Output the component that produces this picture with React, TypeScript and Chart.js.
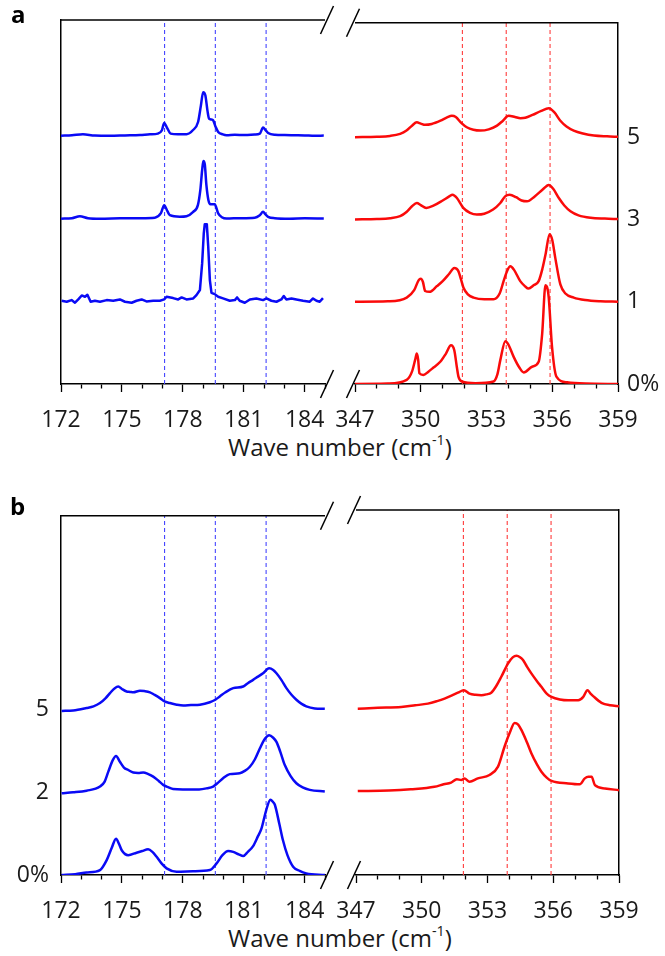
import React, { useEffect, useRef } from 'react';
import { Chart, registerables } from 'chart.js';

Chart.register(...registerables);

const FONT = "'Open Sans', 'Noto Sans', sans-serif";
const TEXT = '#1a1a1a';
const BLUE = 'rgb(10,10,245)';
const RED = 'rgb(250,10,10)';
const BLUE_DASH = 'rgb(70,70,255)';
const RED_DASH = 'rgb(255,60,60)';

// ---- axis ticks ----
const leftTicks = [172, 173, 174, 175, 176, 177, 178, 179, 180, 181, 182, 183, 184, 185];
const leftTickLabels = [172, 175, 178, 181, 184];
const rightTicks = [347, 348, 349, 350, 351, 352, 353, 354, 355, 356, 357, 358, 359];
const rightTickLabels = [347, 350, 353, 356, 359];

// ---- reference (dashed) lines ----
const blueDashes = [177.1, 179.6, 182.1];
const redDashes = [351.9, 353.9, 355.9];

// ---- offset levels ----
const aLevels = [0, 1, 2, 3];
const aLevelLabels = ['0%', '1', '3', '5'];
const bLevels = [0, 1, 2];
const bLevelLabels = ['0%', '2', '5'];
const aYMax = 4.39;
const bYMax = 4.345;

// ---- panel a, blue (172-185) ----
const aBlue5X = [172.0, 172.54, 173.08, 173.67, 174.41, 175.15, 175.89, 176.38, 176.77, 176.97, 177.08, 177.21, 177.4, 177.76, 178.18, 178.49, 178.75, 178.89, 179.0, 179.11, 179.21, 179.29, 179.4, 179.49, 179.6, 179.74, 179.97, 180.15, 180.56, 181.05, 181.54, 181.79, 181.95, 182.08, 182.2, 182.53, 183.02, 183.51, 184.0, 184.49, 184.94];
const aBlue5Y = [2.994, 3.0, 3.012, 2.996, 2.994, 2.998, 3.002, 3.012, 3.02, 3.06, 3.148, 3.096, 3.02, 3.012, 3.012, 3.06, 3.16, 3.36, 3.52, 3.48, 3.3, 3.2, 3.19, 3.18, 3.11, 3.04, 3.01, 3.0, 3.006, 3.002, 3.01, 3.02, 3.093, 3.06, 3.028, 3.006, 3.002, 3.0, 2.998, 2.994, 2.996];

const aBlue3X = [172.0, 172.54, 172.93, 173.33, 173.92, 174.9, 175.89, 176.62, 176.92, 177.08, 177.24, 177.36, 177.85, 178.18, 178.51, 178.74, 178.86, 178.95, 179.01, 179.08, 179.16, 179.26, 179.36, 179.57, 179.74, 179.92, 180.15, 180.8, 181.54, 181.79, 181.95, 182.08, 182.2, 182.53, 183.26, 184.0, 184.94];
const aBlue3Y = [1.994, 2.0, 2.024, 2.0, 1.994, 1.998, 2.0, 2.006, 2.06, 2.157, 2.084, 2.036, 2.018, 2.024, 2.076, 2.157, 2.337, 2.578, 2.69, 2.65, 2.398, 2.217, 2.169, 2.169, 2.057, 2.012, 1.996, 2.0, 2.006, 2.036, 2.076, 2.042, 2.016, 2.0, 1.994, 1.998, 1.996];

const aBlue1X = [172.03, 172.28, 172.52, 172.69, 172.85, 173.02, 173.18, 173.3, 173.46, 173.67, 173.92, 174.25, 174.57, 174.9, 175.15, 175.48, 175.72, 175.97, 176.21, 176.54, 176.87, 177.08, 177.2, 177.52, 177.77, 177.94, 178.18, 178.51, 178.67, 178.84, 178.95, 179.03, 179.08, 179.18, 179.25, 179.33, 179.41, 179.57, 179.74, 179.98, 180.31, 180.56, 180.67, 180.8, 181.05, 181.3, 181.62, 181.95, 182.12, 182.36, 182.61, 182.85, 182.97, 183.1, 183.35, 183.59, 183.92, 184.25, 184.41, 184.58, 184.74, 184.9];
const aBlue1Y = [1.004, 0.992, 1.012, 0.98, 1.02, 1.068, 1.052, 1.076, 0.992, 1.004, 0.992, 1.012, 1.004, 1.02, 0.992, 0.98, 1.004, 1.02, 0.996, 1.004, 1.004, 1.02, 1.052, 1.036, 1.02, 1.044, 1.02, 1.032, 1.072, 1.133, 1.454, 1.815, 1.928, 1.928, 1.655, 1.253, 1.1, 1.084, 1.052, 1.032, 1.004, 1.012, 1.044, 1.004, 0.98, 1.02, 1.032, 1.012, 1.032, 1.004, 0.992, 1.02, 1.06, 1.02, 1.032, 1.02, 1.004, 0.992, 1.032, 1.004, 0.992, 1.036];

// ---- panel a, red (347-359) ----
const aRed5X = [347.0, 348.0, 348.6, 349.06, 349.35, 349.6, 349.82, 350.0, 350.2, 350.5, 350.9, 351.2, 351.42, 351.6, 351.86, 352.1, 352.4, 352.72, 353.1, 353.48, 353.75, 354.01, 354.3, 354.55, 354.77, 355.1, 355.5, 355.84, 356.1, 356.37, 356.65, 356.98, 357.4, 357.9, 358.5, 359.0];
const aRed5Y = [3.0, 3.005, 3.015, 3.04, 3.08, 3.14, 3.18, 3.165, 3.15, 3.16, 3.2, 3.24, 3.26, 3.245, 3.17, 3.12, 3.09, 3.08, 3.095, 3.14, 3.2, 3.26, 3.245, 3.23, 3.235, 3.27, 3.32, 3.35, 3.3, 3.2, 3.13, 3.08, 3.045, 3.02, 3.01, 3.005];

const aRed3X = [347.0, 348.0, 348.6, 349.06, 349.35, 349.6, 349.82, 350.0, 350.25, 350.6, 351.0, 351.3, 351.45, 351.65, 351.94, 352.25, 352.56, 352.9, 353.3, 353.63, 353.85, 354.06, 354.35, 354.6, 354.85, 355.2, 355.55, 355.84, 356.05, 356.3, 356.55, 356.83, 357.2, 357.75, 358.4, 359.0];
const aRed3Y = [2.0, 2.005, 2.015, 2.04, 2.09, 2.16, 2.2, 2.175, 2.14, 2.17, 2.23, 2.28, 2.3, 2.26, 2.14, 2.08, 2.06, 2.07, 2.12, 2.2, 2.28, 2.3, 2.27, 2.23, 2.22, 2.28, 2.36, 2.42, 2.37, 2.26, 2.17, 2.1, 2.05, 2.02, 2.01, 2.005];

const aRed1X = [347.0, 348.5, 349.36, 349.7, 349.9, 350.0, 350.1, 350.2, 350.4, 350.74, 351.0, 351.3, 351.53, 351.7, 351.85, 351.95, 352.15, 352.41, 352.9, 353.32, 353.6, 353.78, 353.95, 354.09, 354.25, 354.54, 354.75, 354.92, 355.15, 355.38, 355.55, 355.69, 355.88, 356.0, 356.14, 356.37, 356.6, 356.98, 357.5, 358.2, 359.0];
const aRed1Y = [1.0, 1.005, 1.05, 1.14, 1.26, 1.28, 1.24, 1.13, 1.12, 1.19, 1.25, 1.34, 1.41, 1.38, 1.26, 1.17, 1.09, 1.05, 1.03, 1.03, 1.1, 1.25, 1.38, 1.43, 1.39, 1.25, 1.19, 1.16, 1.2, 1.25, 1.4, 1.57, 1.82, 1.75, 1.53, 1.21, 1.1, 1.05, 1.02, 1.005, 1.0];

const aRed0X = [347.0, 348.5, 349.36, 349.6, 349.75, 349.82, 349.88, 349.94, 350.12, 350.35, 350.58, 350.89, 351.15, 351.38, 351.53, 351.65, 351.72, 351.88, 352.5, 353.32, 353.5, 353.63, 353.86, 354.0, 354.24, 354.5, 354.7, 355.08, 355.38, 355.54, 355.69, 355.76, 355.84, 355.99, 356.19, 356.68, 357.5, 359.0];
const aRed0Y = [0.0, 0.005, 0.05, 0.15, 0.3, 0.37, 0.3, 0.13, 0.11, 0.15, 0.2, 0.27, 0.37, 0.47, 0.41, 0.2, 0.09, 0.03, 0.01, 0.03, 0.12, 0.29, 0.52, 0.48, 0.33, 0.2, 0.14, 0.21, 0.27, 0.61, 1.2, 1.18, 1.05, 0.45, 0.09, 0.02, 0.005, 0.0];

// ---- panel b, blue ----
const bBlue5X = [172.03, 172.6, 173.26, 173.6, 173.92, 174.2, 174.41, 174.65, 174.82, 175.0, 175.23, 175.4, 175.56, 175.89, 176.1, 176.38, 176.6, 176.87, 177.1, 177.36, 177.7, 178.02, 178.4, 178.84, 179.33, 179.6, 179.82, 180.1, 180.48, 180.97, 181.2, 181.46, 181.7, 181.95, 182.25, 182.45, 182.61, 182.85, 183.1, 183.35, 183.59, 183.85, 184.08, 184.5, 184.99];
const bBlue5Y = [1.985, 1.99, 2.02, 2.04, 2.08, 2.14, 2.2, 2.26, 2.28, 2.25, 2.22, 2.215, 2.21, 2.23, 2.225, 2.21, 2.18, 2.14, 2.1, 2.08, 2.06, 2.05, 2.055, 2.06, 2.09, 2.12, 2.16, 2.21, 2.26, 2.28, 2.32, 2.36, 2.4, 2.44, 2.5, 2.48, 2.44, 2.36, 2.26, 2.18, 2.12, 2.07, 2.04, 2.015, 2.01];

const bBlue2X = [172.03, 172.6, 173.26, 173.92, 174.15, 174.33, 174.55, 174.71, 174.9, 175.1, 175.31, 175.56, 175.8, 176.05, 176.3, 176.54, 176.8, 177.03, 177.3, 177.52, 178.0, 178.8, 179.2, 179.49, 179.75, 179.98, 180.31, 180.8, 181.05, 181.3, 181.55, 181.79, 182.05, 182.25, 182.45, 182.61, 182.8, 183.02, 183.3, 183.59, 183.9, 184.25, 184.99];
const bBlue2Y = [0.99, 1.0, 1.02, 1.07, 1.13, 1.25, 1.39, 1.44, 1.37, 1.3, 1.27, 1.24, 1.235, 1.24, 1.22, 1.19, 1.14, 1.09, 1.06, 1.04, 1.035, 1.035, 1.05, 1.07, 1.12, 1.17, 1.22, 1.23, 1.26, 1.31, 1.4, 1.53, 1.65, 1.69, 1.66, 1.61, 1.49, 1.33, 1.2, 1.11, 1.06, 1.03, 1.01];

const bBlue0X = [172.03, 172.7, 173.26, 173.92, 174.25, 174.5, 174.71, 174.85, 174.99, 175.31, 175.72, 176.0, 176.29, 176.5, 176.71, 176.95, 177.2, 177.69, 178.5, 179.33, 179.66, 179.95, 180.23, 180.48, 180.75, 180.97, 181.2, 181.46, 181.7, 181.87, 182.1, 182.31, 182.45, 182.53, 182.75, 182.93, 183.15, 183.43, 183.75, 184.08, 184.99];
const bBlue0Y = [0.0, 0.01, 0.03, 0.06, 0.18, 0.33, 0.44, 0.38, 0.3, 0.24, 0.27, 0.29, 0.31, 0.28, 0.22, 0.14, 0.08, 0.04, 0.045, 0.06, 0.14, 0.24, 0.29, 0.28, 0.25, 0.23, 0.28, 0.35, 0.47, 0.56, 0.78, 0.91, 0.88, 0.85, 0.62, 0.42, 0.24, 0.1, 0.05, 0.02, 0.0];

// ---- panel b, red ----
const bRed5X = [347.08, 348.0, 349.06, 349.7, 350.28, 350.7, 351.04, 351.4, 351.65, 351.92, 352.18, 352.45, 352.72, 352.95, 353.17, 353.4, 353.63, 353.94, 354.15, 354.32, 354.5, 354.62, 354.8, 355.0, 355.25, 355.46, 355.7, 355.92, 356.3, 356.68, 357.14, 357.37, 357.56, 357.7, 357.82, 358.2, 358.6, 359.0];
const bRed5Y = [1.98, 1.99, 2.0, 2.02, 2.04, 2.07, 2.1, 2.14, 2.17, 2.2, 2.16, 2.145, 2.14, 2.15, 2.17, 2.25, 2.36, 2.52, 2.59, 2.61, 2.59, 2.56, 2.48, 2.4, 2.31, 2.24, 2.16, 2.12, 2.09, 2.08, 2.08, 2.12, 2.2, 2.16, 2.13, 2.05, 2.02, 2.01];

const bRed2X = [347.08, 348.5, 349.5, 350.58, 351.0, 351.34, 351.6, 351.8, 351.95, 352.18, 352.56, 353.09, 353.48, 353.78, 354.01, 354.24, 354.4, 354.54, 354.8, 355.0, 355.25, 355.46, 355.7, 355.92, 356.68, 357.21, 357.44, 357.6, 357.75, 357.9, 358.36, 359.0];
const bRed2Y = [1.0, 1.005, 1.02, 1.05, 1.08, 1.1, 1.14, 1.13, 1.15, 1.11, 1.15, 1.19, 1.29, 1.53, 1.69, 1.81, 1.79, 1.73, 1.58, 1.45, 1.32, 1.23, 1.16, 1.12, 1.09, 1.08, 1.15, 1.17, 1.17, 1.07, 1.03, 1.01];

type Spectrum = { xs: number[]; ys: number[]; color: string; smooth: boolean };

type SubProps = {
  left: number;
  top: number;
  width: number;
  height: number;
  padding: { left: number; right: number; top: number; bottom: number };
  xMin: number;
  xMax: number;
  ticks: number[];
  tickLabels: number[];
  yMax: number;
  levels: number[];
  levelLabels: string[];
  yPos: 'left' | 'right';
  showY: boolean;
  yWidth: number;
  xHeight: number;
  spectra: Spectrum[];
  dashes: number[];
  dashColor: string;
  breakSide: 'left' | 'right';
};

const breakPlugin = {
  id: 'axisBreak',
  afterDraw(chart: any, _args: any, opts: any) {
    const { ctx, chartArea } = chart;
    const { left, right, top, bottom } = chartArea;
    ctx.save();
    ctx.strokeStyle = '#000';
    ctx.lineWidth = 1.5;
    ctx.beginPath();
    ctx.moveTo(left, top);
    ctx.lineTo(right, top);
    ctx.stroke();
    const cx = opts.side === 'right' ? right + 2 : left - 2;
    for (const cy of [top, bottom]) {
      ctx.beginPath();
      ctx.moveTo(cx + 6.5, cy - 14);
      ctx.lineTo(cx - 6.5, cy + 14);
      ctx.stroke();
    }
    ctx.restore();
  },
};

function zip(xs: number[], ys: number[]) {
  const n = Math.min(xs.length, ys.length);
  const out: { x: number; y: number }[] = [];
  for (let i = 0; i < n; i++) out.push({ x: xs[i], y: ys[i] });
  return out;
}

function buildConfig(p: SubProps): any {
  const datasets: any[] = [];
  p.spectra.forEach((s) => {
    datasets.push({
      data: zip(s.xs, s.ys),
      borderColor: s.color,
      borderWidth: 2.5,
      pointRadius: 0,
      showLine: true,
      fill: false,
      tension: 0,
      cubicInterpolationMode: s.smooth ? 'monotone' : 'default',
      borderJoinStyle: 'round',
    });
  });
  p.dashes.forEach((d) => {
    datasets.push({
      data: [
        { x: d, y: 0 },
        { x: d, y: p.yMax },
      ],
      borderColor: p.dashColor,
      borderWidth: 1.1,
      borderDash: [4, 3],
      pointRadius: 0,
      showLine: true,
      fill: false,
    });
  });

  return {
    type: 'scatter',
    data: { datasets },
    plugins: [breakPlugin],
    options: {
      responsive: false,
      animation: false,
      events: [],
      layout: { padding: p.padding },
      plugins: {
        legend: { display: false },
        tooltip: { enabled: false },
        axisBreak: { side: p.breakSide },
      },
      scales: {
        x: {
          type: 'linear',
          position: 'bottom',
          min: p.xMin,
          max: p.xMax,
          afterBuildTicks: (s: any) => {
            s.ticks = p.ticks.map((v) => ({ value: v }));
          },
          afterFit: (s: any) => {
            s.height = p.xHeight;
          },
          ticks: {
            autoSkip: false,
            maxRotation: 0,
            minRotation: 0,
            padding: 15,
            color: TEXT,
            font: { family: FONT, size: 23 },
            callback: (v: number) => (p.tickLabels.includes(v) ? String(v) : ''),
          },
          grid: {
            display: true,
            drawOnChartArea: false,
            drawTicks: true,
            tickLength: 8,
            tickColor: '#000',
            tickWidth: 1.3,
            tickBorderDash: (ctx: any) =>
              ctx.tick && p.tickLabels.includes(ctx.tick.value) ? [] : [4, 30],
          },
          border: { display: true, color: '#000', width: 1.5 },
        },
        y: {
          type: 'linear',
          position: p.yPos,
          min: 0,
          max: p.yMax,
          afterBuildTicks: (s: any) => {
            s.ticks = p.levels.map((v) => ({ value: v }));
          },
          afterFit: (s: any) => {
            s.width = p.yWidth;
          },
          ticks: {
            display: p.showY,
            padding: p.yPos === 'left' ? 12 : 9,
            color: TEXT,
            font: { family: FONT, size: 23 },
            callback: (_v: number, i: number) => p.levelLabels[i] ?? '',
          },
          grid: { display: false, drawTicks: false },
          border: { display: true, color: '#000', width: 1.5 },
        },
      },
    },
  };
}

function SubChart(p: SubProps) {
  const ref = useRef<HTMLCanvasElement>(null);
  useEffect(() => {
    if (!ref.current) return;
    const chart = new Chart(ref.current, buildConfig(p));
    return () => chart.destroy();
  }, []);
  return (
    <canvas
      ref={ref}
      width={p.width}
      height={p.height}
      style={{ position: 'absolute', left: p.left, top: p.top, width: p.width, height: p.height }}
    />
  );
}

const titleStyle: React.CSSProperties = {
  position: 'absolute',
  left: 140,
  width: 400,
  textAlign: 'center',
  fontFamily: FONT,
  fontSize: 24,
  lineHeight: '24px',
  color: TEXT,
  whiteSpace: 'nowrap',
};

const panelLabelStyle: React.CSSProperties = {
  position: 'absolute',
  fontFamily: FONT,
  fontWeight: 700,
  fontSize: 24,
  lineHeight: '24px',
  color: '#000',
};

function Title({ top }: { top: number }) {
  return (
    <div style={{ ...titleStyle, top }}>
      Wave number (cm<sup style={{ fontSize: '0.6em', lineHeight: 0, verticalAlign: '0.75em' }}>-1</sup>)
    </div>
  );
}

export default function App() {
  const bTop = 490;
  return (
    <div style={{ position: 'absolute', left: 0, top: 0, width: 665, height: 956, background: '#fff', overflow: 'hidden' }}>
      {/* panel a */}
      <SubChart
        left={0}
        top={0}
        width={345}
        height={430}
        padding={{ left: 0, right: 20, top: 20, bottom: 0 }}
        xMin={172}
        xMax={185}
        ticks={leftTicks}
        tickLabels={leftTickLabels}
        yMax={aYMax}
        levels={aLevels}
        levelLabels={aLevelLabels}
        yPos="left"
        showY={false}
        yWidth={61}
        xHeight={46}
        spectra={[
          { xs: aBlue5X, ys: aBlue5Y, color: BLUE, smooth: true },
          { xs: aBlue3X, ys: aBlue3Y, color: BLUE, smooth: true },
          { xs: aBlue1X, ys: aBlue1Y, color: BLUE, smooth: false },
        ]}
        dashes={blueDashes}
        dashColor={BLUE_DASH}
        breakSide="right"
      />
      <SubChart
        left={315}
        top={0}
        width={350}
        height={430}
        padding={{ left: 40, right: 0, top: 20, bottom: 0 }}
        xMin={347}
        xMax={359}
        ticks={rightTicks}
        tickLabels={rightTickLabels}
        yMax={aYMax}
        levels={aLevels}
        levelLabels={aLevelLabels}
        yPos="right"
        showY={true}
        yWidth={47}
        xHeight={46}
        spectra={[
          { xs: aRed5X, ys: aRed5Y, color: RED, smooth: true },
          { xs: aRed3X, ys: aRed3Y, color: RED, smooth: true },
          { xs: aRed1X, ys: aRed1Y, color: RED, smooth: true },
          { xs: aRed0X, ys: aRed0Y, color: RED, smooth: true },
        ]}
        dashes={redDashes}
        dashColor={RED_DASH}
        breakSide="left"
      />
      <div style={{ ...panelLabelStyle, left: 11, top: 2 }}>a</div>
      <Title top={435} />

      {/* panel b */}
      <SubChart
        left={0}
        top={bTop}
        width={345}
        height={431}
        padding={{ left: 0, right: 20, top: 20, bottom: 0 }}
        xMin={172}
        xMax={185}
        ticks={leftTicks}
        tickLabels={leftTickLabels}
        yMax={bYMax}
        levels={bLevels}
        levelLabels={bLevelLabels}
        yPos="left"
        showY={true}
        yWidth={61}
        xHeight={46}
        spectra={[
          { xs: bBlue5X, ys: bBlue5Y, color: BLUE, smooth: true },
          { xs: bBlue2X, ys: bBlue2Y, color: BLUE, smooth: true },
          { xs: bBlue0X, ys: bBlue0Y, color: BLUE, smooth: true },
        ]}
        dashes={blueDashes}
        dashColor={BLUE_DASH}
        breakSide="right"
      />
      <SubChart
        left={315}
        top={bTop}
        width={350}
        height={431}
        padding={{ left: 41, right: 0, top: 20, bottom: 0 }}
        xMin={347}
        xMax={359}
        ticks={rightTicks}
        tickLabels={rightTickLabels}
        yMax={bYMax}
        levels={bLevels}
        levelLabels={bLevelLabels}
        yPos="right"
        showY={false}
        yWidth={46}
        xHeight={46}
        spectra={[
          { xs: bRed5X, ys: bRed5Y, color: RED, smooth: true },
          { xs: bRed2X, ys: bRed2Y, color: RED, smooth: true },
        ]}
        dashes={redDashes}
        dashColor={RED_DASH}
        breakSide="left"
      />
      <div style={{ ...panelLabelStyle, left: 10, top: 494 }}>b</div>
      <Title top={926} />
    </div>
  );
}
